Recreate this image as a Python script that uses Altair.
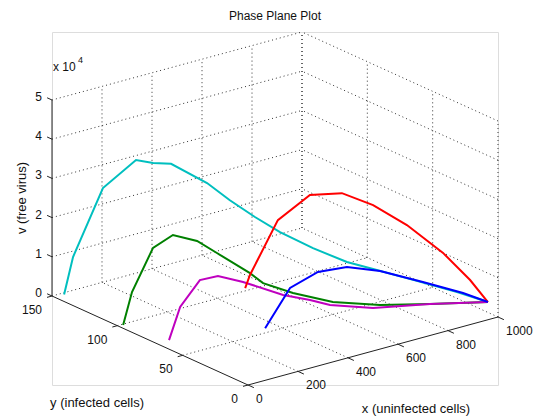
import altair as alt
import pandas as pd

TITLE = "Phase Plane Plot"
X_LABEL = "x (uninfected cells)"
Y_LABEL = "y (infected cells)"
Z_LABEL = "v (free virus)"

X_TICKS = [0, 200, 400, 600, 800, 1000]
Y_TICKS = [0, 50, 100, 150]
Z_TICKS = [0, 1, 2, 3, 4, 5]          # in units of 10^4
Z_UNIT = 10000
X_MAX, Y_MAX, Z_MAX = 1000, 150, 50000

# Trajectories (x = uninfected, y = infected, v = free virus)
cyan_x = [38, 58, 141, 221, 258, 309, 385, 424, 472, 520, 584, 657, 720, 817, 925, 991]
cyan_y = [148, 145, 138, 128, 122, 118, 105, 95, 85, 75, 62, 50, 42, 30, 17, 6]
cyan_v = [0, 9700, 26900, 34200, 33700, 33200, 28950, 25400, 21800, 18650, 15400, 12400, 10750, 8100, 5100, 3070]

green_x = [18, 43, 101, 144, 204, 252, 332, 353, 415, 512, 648, 801, 991]
green_y = [99, 97, 92, 85, 78, 72, 62, 56, 45, 33, 23, 14, 6]
green_v = [0, 8300, 19300, 22900, 21400, 18400, 13400, 11400, 9450, 7300, 5700, 4650, 3070]

magenta_x = [50, 84, 142, 183, 252, 360, 436, 490, 615, 796, 991]
magenta_y = [70, 68, 64, 58, 52, 42, 36, 31, 22, 13, 6]
magenta_v = [0, 8150, 14600, 15850, 14050, 10350, 8670, 7200, 5640, 4900, 3070]

red_x = [527, 541, 616, 692, 752, 814, 876, 937, 972, 991]
red_y = [103, 102, 95, 85, 72, 60, 46, 30, 16, 6]
red_v = [0, 3240, 17000, 23600, 25000, 22700, 18650, 12900, 7500, 3070]

blue_x = [356, 440, 515, 589, 685, 804, 923, 991]
blue_y = [55, 52, 45, 37, 30, 20, 12, 6]
blue_v = [0, 9240, 13100, 14270, 12650, 9300, 5650, 3070]

CURVES = [
    ("cyan", cyan_x, cyan_y, cyan_v, "#00bfbf"),
    ("green", green_x, green_y, green_v, "#008000"),
    ("magenta", magenta_x, magenta_y, magenta_v, "#bf00bf"),
    ("red", red_x, red_y, red_v, "#ff0000"),
    ("blue", blue_x, blue_y, blue_v, "#0000ff"),
]

# orthographic view: screen direction of each full box edge (right, up)
X_DIR = (250, 68)
Y_DIR = (-196, 89)
Z_DIR = (0, 196)


def project(x, y, z):
    p = X_DIR[0] * x / X_MAX + Y_DIR[0] * y / Y_MAX + Z_DIR[0] * z / Z_MAX
    q = X_DIR[1] * x / X_MAX + Y_DIR[1] * y / Y_MAX + Z_DIR[1] * z / Z_MAX
    return p, q


def seg(a, b):
    p1, q1 = project(*a)
    p2, q2 = project(*b)
    return {"p1": p1, "q1": q1, "p2": p2, "q2": q2}


# ---- grid segments (dotted) ----
grid = []
for x in X_TICKS[1:]:
    grid.append(seg((x, 0, 0), (x, Y_MAX, 0)))            # floor
    grid.append(seg((x, Y_MAX, 0), (x, Y_MAX, Z_MAX)))    # back wall y=max
for y in Y_TICKS[1:]:
    grid.append(seg((0, y, 0), (X_MAX, y, 0)))            # floor
for y in Y_TICKS:
    grid.append(seg((X_MAX, y, 0), (X_MAX, y, Z_MAX)))    # back wall x=max
for zt in Z_TICKS[1:]:
    z = zt * Z_UNIT
    grid.append(seg((0, Y_MAX, z), (X_MAX, Y_MAX, z)))
    grid.append(seg((X_MAX, 0, z), (X_MAX, Y_MAX, z)))
grid_df = pd.DataFrame(grid)

# ---- axis lines and ticks (solid) ----
axes = [
    seg((0, 0, 0), (X_MAX, 0, 0)),
    seg((0, 0, 0), (0, Y_MAX, 0)),
    seg((0, Y_MAX, 0), (0, Y_MAX, Z_MAX)),
]
for x in X_TICKS:
    axes.append(seg((x, 0, 0), (x, -0.03 * Y_MAX, 0)))
for y in Y_TICKS:
    axes.append(seg((0, y, 0), (-0.02 * X_MAX, y, 0)))
for zt in Z_TICKS:
    z = zt * Z_UNIT
    axes.append(seg((0, Y_MAX, z), (0, 1.025 * Y_MAX, z)))
axes_df = pd.DataFrame(axes)

# ---- tick labels ----
def lab(pt, text):
    p, q = project(*pt)
    return {"p": p, "q": q, "text": text}

xlab_df = pd.DataFrame([lab((x, 0, 0), str(x)) for x in X_TICKS])
ylab_df = pd.DataFrame([lab((0, y, 0), str(y)) for y in Y_TICKS])
zlab_df = pd.DataFrame([lab((0, Y_MAX, zt * Z_UNIT), str(zt)) for zt in Z_TICKS])
exp_df = pd.DataFrame([lab((0, Y_MAX, Z_MAX), "x 10")])
exp4_df = pd.DataFrame([lab((0, Y_MAX, Z_MAX), "4")])
xt_df = pd.DataFrame([lab((X_MAX / 2, 0, 0), X_LABEL)])
yt_df = pd.DataFrame([lab((0, Y_MAX / 2, 0), Y_LABEL)])
zt_df = pd.DataFrame([lab((0, Y_MAX, Z_MAX / 2), Z_LABEL)])

# ---- curves ----
rows = []
for name, xs_, ys_, vs_, _ in CURVES:
    for i, (a, b, c) in enumerate(zip(xs_, ys_, vs_)):
        p, q = project(a, b, c)
        rows.append({"curve": name, "i": i, "p": p, "q": q})
curve_df = pd.DataFrame(rows)

P_MIN, P_MAX = Y_DIR[0], X_DIR[0]
Q_MAX = X_DIR[1] + Y_DIR[1] + Z_DIR[1]
xs = alt.Scale(domain=[P_MIN, P_MAX], nice=False, zero=False)
ys = alt.Scale(domain=[0, Q_MAX], nice=False, zero=False)
W = P_MAX - P_MIN
H = Q_MAX

FONT = "Liberation Sans"

grid_layer = alt.Chart(grid_df).mark_rule(
    strokeDash=[1, 3], color="#333333", strokeWidth=1
).encode(
    x=alt.X("p1:Q", scale=xs, axis=None),
    y=alt.Y("q1:Q", scale=ys, axis=None),
    x2="p2:Q", y2="q2:Q",
)

axes_layer = alt.Chart(axes_df).mark_rule(color="#222222", strokeWidth=1).encode(
    x=alt.X("p1:Q", scale=xs, axis=None),
    y=alt.Y("q1:Q", scale=ys, axis=None),
    x2="p2:Q", y2="q2:Q",
)

curve_layer = alt.Chart(curve_df).mark_line(strokeWidth=2).encode(
    x=alt.X("p:Q", scale=xs, axis=None),
    y=alt.Y("q:Q", scale=ys, axis=None),
    color=alt.Color("curve:N",
                    scale=alt.Scale(domain=[c[0] for c in CURVES], range=[c[4] for c in CURVES]),
                    legend=None),
    order="i:Q",
)


def text_layer(df, **kw):
    base = dict(font=FONT, fontSize=12, color="#111111")
    base.update(kw)
    return alt.Chart(df).mark_text(**base).encode(
        x=alt.X("p:Q", scale=xs, axis=None),
        y=alt.Y("q:Q", scale=ys, axis=None),
        text="text:N",
    )


layers = [
    grid_layer,
    axes_layer,
    curve_layer,
    text_layer(xlab_df, align="left", baseline="middle", dx=8, dy=14),
    text_layer(ylab_df, align="right", baseline="middle", dx=-10, dy=14),
    text_layer(zlab_df, align="right", baseline="middle", dx=-10, dy=-3),
    text_layer(exp_df, align="left", baseline="middle", dx=1, dy=-33),
    text_layer(exp4_df, align="left", baseline="middle", dx=26, dy=-40, fontSize=9),
    text_layer(xt_df, align="center", baseline="middle", dx=43, dy=58, fontSize=13),
    text_layer(yt_df, align="center", baseline="middle", dx=-53, dy=62, fontSize=13),
    text_layer(zt_df, align="center", baseline="middle", angle=270, dx=0, dy=-30, fontSize=13),
]

chart = alt.layer(*layers).properties(
    width=W,
    height=H,
    title=alt.TitleParams(TITLE, font=FONT, fontSize=12, fontWeight="normal",
                          anchor="middle", offset=9, color="#111111"),
    autosize=alt.AutoSizeParams(type="none"),
    padding={"left": 52, "top": 32, "right": 538 - 52 - W, "bottom": 416 - 32 - H},
).configure_view(stroke=None).configure(background="white")

chart.save("out.html", embed_options={"renderer": "svg", "actions": False})
